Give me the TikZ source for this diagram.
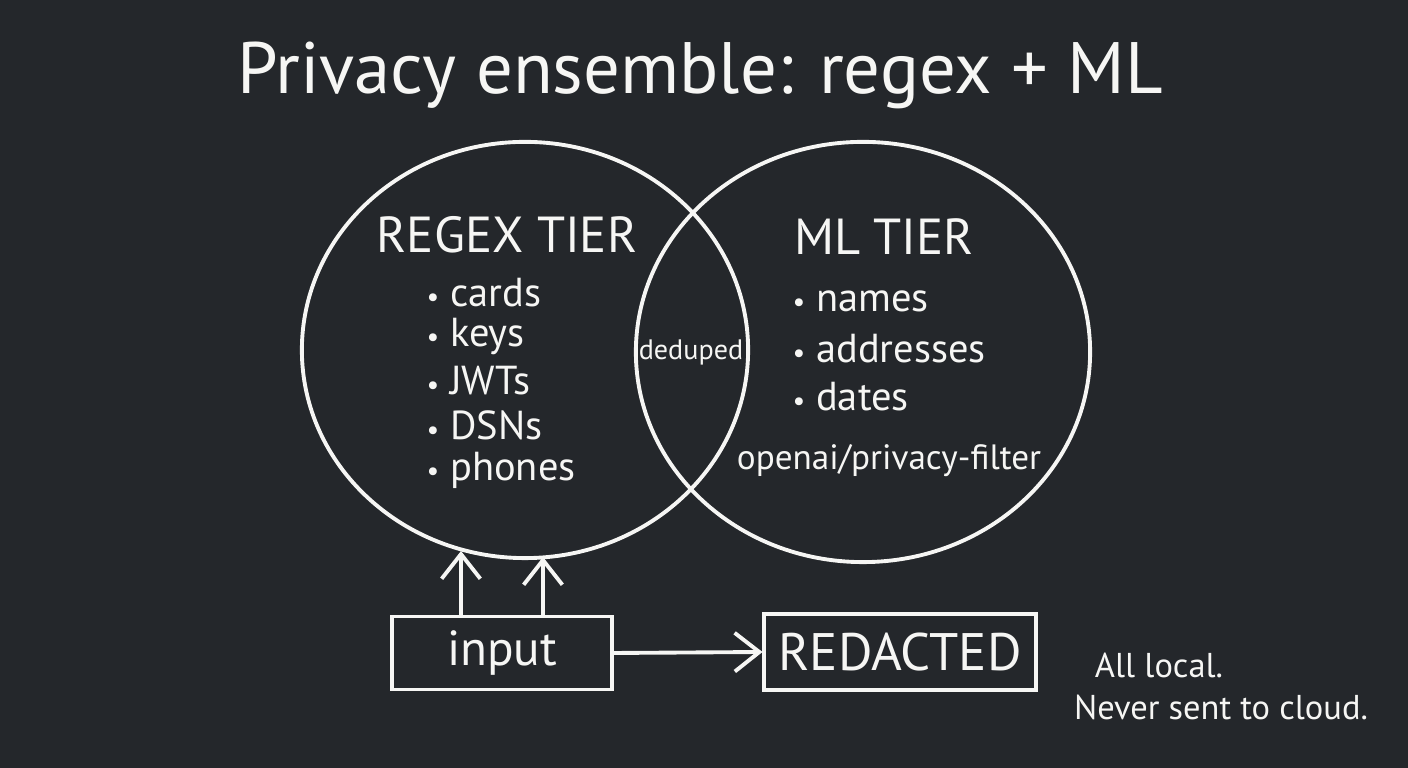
\documentclass[tikz,border=0pt]{standalone}
\usepackage{fontspec}
\setmainfont{PT Sans}
\usetikzlibrary{arrows.meta,shapes.geometric,positioning}
\definecolor{board}{RGB}{36,39,43}
\definecolor{chalk}{RGB}{246,246,244}
\newcommand{\dotmark}{{\fontsize{8}{8}\selectfont\textbullet}\ }
\tikzset{
  chalkline/.style={draw=chalk,line width=1.1pt},
  tierring/.style={chalkline,ellipse,inner sep=0pt},
  chalkbox/.style={chalkline,rectangle,inner sep=0pt},
  chalkarrow/.style={chalk,line width=1.1pt,-{Straight Barb[length=7pt,width=11pt,line width=1.1pt]}},
  txt/.style={text=chalk,inner sep=0pt},
  item/.style={txt,anchor=west,font=\fontsize{11.5}{14}\selectfont}
}
\begin{document}
\begin{tikzpicture}[x=0.01cm,y=-0.01cm]
	\fill[board] (0,0) rectangle (1408,768);
	\useasboundingbox (0,0) rectangle (1408,768);
	% title
	\node[txt,font=\fontsize{20.7}{25}\selectfont] (title) at (700,75) {Privacy ensemble: regex + ML};
	% the two tiers
	\node[tierring,minimum width=4.46cm,minimum height=4.16cm] (regex) at (525,350) {};
	\node[tierring,minimum width=4.54cm,minimum height=4.2cm] (ml) at (863,352) {};
	\node[txt,font=\fontsize{14.4}{17}\selectfont] (regexhead) at (507,235) {REGEX TIER};
	\node[item] (cards) at (426,293) {\dotmark cards};
	\node[item] (keys) at (426,337) {\dotmark keys};
	\node[item] (jwts) at (426,381) {\dotmark JWTs};
	\node[item] (dsns) at (426,425) {\dotmark DSNs};
	\node[item] (phones) at (426,470) {\dotmark phones};
	\node[txt,font=\fontsize{14.4}{17}\selectfont] (mlhead) at (884,237) {ML TIER};
	\node[item] (names) at (792,301) {\dotmark names};
	\node[item] (addr) at (792,349) {\dotmark addresses};
	\node[item] (dates) at (792,397) {\dotmark dates};
	\node[txt,font=\fontsize{10}{12}\selectfont] (model) at (889,461) {openai/privacy-filter};
	\node[txt,font=\fontsize{8}{10}\selectfont] (dedup) at (691,352) {deduped};
	% flow
	\node[chalkbox,minimum width=2.2cm,minimum height=0.73cm,txt,font=\fontsize{14}{16}\selectfont] (input) at (502,653) {input};
	\node[chalkbox,minimum width=2.71cm,minimum height=0.76cm,txt,font=\fontsize{15}{18}\selectfont] (redacted) at (900,652) {REDACTED};
	\coordinate (inA) at (461,551);
	\coordinate (inB) at (543,557);
	\draw[chalkarrow] (input.north -| inA) -- (inA);
	\draw[chalkarrow] (input.north -| inB) -- (inB);
	\draw[chalkarrow] (input.east) -- (redacted.west);
	% note
	\node[txt,font=\fontsize{9.8}{12}\selectfont] (local) at (1159,665) {All local.};
	\node[txt,font=\fontsize{9.8}{12}\selectfont] (cloud) at (1221,707) {Never sent to cloud.};
\end{tikzpicture}
\end{document}
